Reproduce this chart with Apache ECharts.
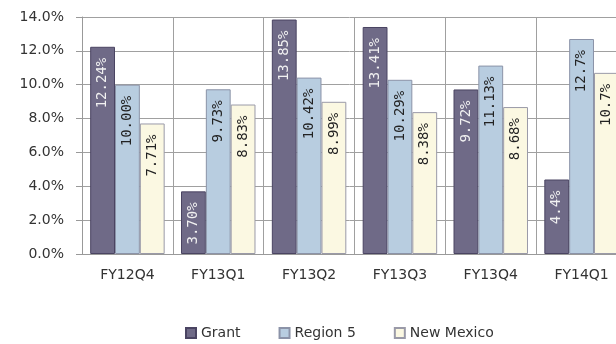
<!DOCTYPE html>
<html><head><meta charset="utf-8">
<script src="https://cdn.jsdelivr.net/npm/echarts@6/dist/echarts.min.js"></script>
<style>html,body{margin:0;padding:0;background:#fff}#c{width:616px;height:344px}</style>
</head><body><div id="c"></div>
<script>
const categories = ['FY12Q4','FY13Q1','FY13Q2','FY13Q3','FY13Q4','FY14Q1'];
const grant = [12.24, 3.70, 13.85, 13.41, 9.72, 4.4];
const grantLabels = ['12.24%','3.70%','13.85%','13.41%','9.72%','4.4%'];
const region5 = [10.00, 9.73, 10.42, 10.29, 11.13, 12.7];
const region5Labels = ['10.00%','9.73%','10.42%','10.29%','11.13%','12.7%'];
const newMexico = [7.71, 8.83, 8.99, 8.38, 8.68, 10.7];
const newMexicoLabels = ['7.71%','8.83%','8.99%','8.38%','8.68%','10.7%'];
const yTicks = ['0.0%','2.0%','4.0%','6.0%','8.0%','10.0%','12.0%','14.0%'];

const font = 'DejaVu Sans';
function mkSeries(name, data, labels, fill, border, labelColor) {
  return {
    name, type: 'bar', data, barGap: '0%', barCategoryGap: '18%',
    itemStyle: { color: fill, borderColor: border, borderWidth: 1 },
    label: {
      show: true, position: 'insideTop', rotate: 90, align: 'right', verticalAlign: 'middle',
      distance: 11, color: labelColor, fontFamily: 'DejaVu Sans Mono', fontSize: 14,
      formatter: p => labels[p.dataIndex]
    },
    emphasis: { disabled: true }
  };
}
const chart = echarts.init(document.getElementById('c'));
chart.setOption({
  animation: false,
  grid: { left: 82, top: 17, bottom: 90, width: 545, containLabel: false, outerBoundsMode: 'none' },
  legend: {
    left: 185, top: 326, padding: 0, itemWidth: 10, itemHeight: 10, itemGap: 38,
    icon: 'rect',
    textStyle: { fontFamily: font, fontSize: 14, color: '#333' },
    data: ['Grant','Region 5','New Mexico']
  },
  xAxis: {
    type: 'category', data: categories,
    axisLine: { lineStyle: { color: '#999' } },
    axisTick: { show: false },
    splitLine: { show: true, lineStyle: { color: '#a0a0a0', width: 1 } },
    axisLabel: { fontFamily: font, fontSize: 14, color: '#333', margin: 14 }
  },
  yAxis: {
    type: 'value', min: 0, max: 14, interval: 2,
    axisLine: { show: true, lineStyle: { color: '#999' } },
    axisTick: { show: true, length: 6, lineStyle: { color: '#999' } },
    splitLine: { lineStyle: { color: '#a0a0a0', width: 1 } },
    axisLabel: { fontFamily: font, fontSize: 14, color: '#333', margin: 18,
      formatter: v => yTicks[Math.round(v / 2)] }
  },
  series: [
    mkSeries('Grant', grant, grantLabels, '#6f6a87', '#4a4462', '#f2f2f2'),
    mkSeries('Region 5', region5, region5Labels, '#b8cde0', '#8b93a8', '#222'),
    mkSeries('New Mexico', newMexico, newMexicoLabels, '#fbf8e2', '#9a9aa8', '#222')
  ]
});
</script></body></html>
